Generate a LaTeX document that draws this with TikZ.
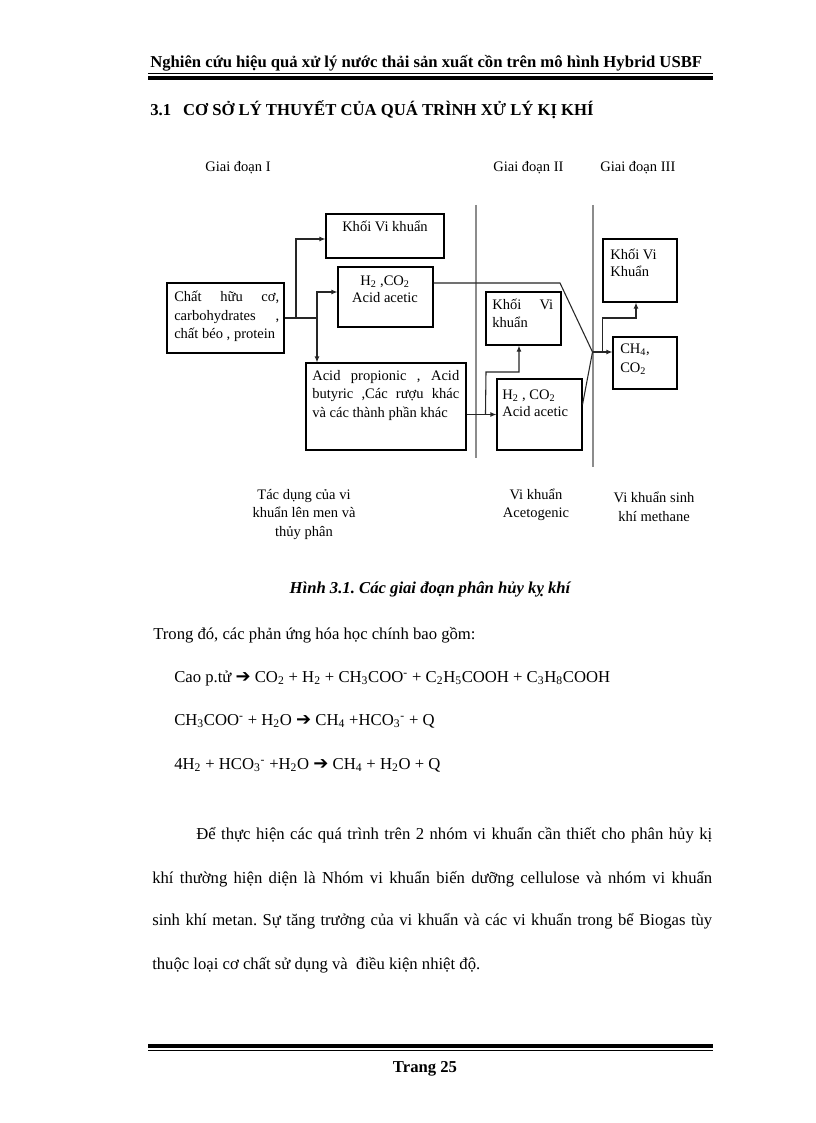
\documentclass[tikz,border=0pt]{standalone}
\usepackage{fontspec}
\setmainfont{Liberation Serif}
\newfontfamily\symfont{DejaVu Sans}
\usetikzlibrary{arrows.meta,fit,calc}
\newcommand{\ra}{{\symfont\fontsize{13.5}{15}\selectfont ➔}}
\newcommand{\sbs}[1]{\textsubscript{#1}}
\newcommand{\sps}[1]{\textsuperscript{#1}}
\frenchspacing
\begin{document}
\begin{tikzpicture}[x=0.75pt,y=-0.75pt,
  box/.style={draw=black, line width=0.8pt, inner sep=0pt},
  conn/.style={draw=black!85, line width=0.8pt},
  arr/.style={conn, -{Latex[length=4.5pt,width=3.6pt]}},
  divider/.style={draw=black!45, line width=1.1pt},
  dtext/.style={font=\fontsize{10.9}{14}\selectfont, inner sep=0pt},
  body/.style={font=\fontsize{12.5}{15}\selectfont, inner sep=0pt, anchor=base west},
  hdr/.style={font=\fontsize{12.5}{15}\selectfont\bfseries, inner sep=0pt},
]
\useasboundingbox[fill=white] (0,0) rectangle (816,1123);

% header and footer
\node[hdr, anchor=base west] (header) at (150,68) {Nghiên cứu hiệu quả xử lý nước thải sản xuất cồn trên mô hình Hybrid USBF};
\draw[line width=0.75pt] (148,74) -- (713,74);
\draw[line width=3pt] (148,78) -- (713,78);
\node[hdr, anchor=base west] (sec) at (150,116) {3.1\hspace{9pt}CƠ SỞ LÝ THUYẾT CỦA QUÁ TRÌNH XỬ LÝ KỊ KHÍ};
\draw[line width=3pt] (148,1046) -- (713,1046);
\draw[line width=0.75pt] (148,1050.5) -- (713,1050.5);
\node[hdr, anchor=base] (page) at (425,1072) {Trang 25};

% stage labels
\node[dtext, anchor=base west] (g1) at (205,172) {Giai đoạn I};
\node[dtext, anchor=base west] (g2) at (493,172) {Giai đoạn II};
\node[dtext, anchor=base west] (g3) at (600,172) {Giai đoạn III};

% dividers
\draw[divider] (476,205) -- (476,458);
\draw[divider] (593,205) -- (593,467);

% boxes
\node[box, fit={(326,214) (444,258)}] (k1) {};
\node[box, fit={(338,267) (433,327)}] (h1) {};
\node[box, fit={(167,283) (284,353)}] (ch) {};
\node[box, fit={(306,363) (466,450)}] (ap) {};
\node[box, fit={(497,379) (582,450)}] (h2) {};
\node[box, fit={(486,292) (561,345)}] (k2) {};
\node[box, fit={(603,239) (677,302)}] (k3) {};
\node[box, fit={(613,337) (677,389)}] (c4) {};

% box texts
\node[dtext, anchor=base] (k1t) at (385,232) {Khối Vi khuẩn};
\node[dtext, anchor=base] (h1ta) at (385,285) {H\sbs2 ,CO\sbs2};
\node[dtext, anchor=base] (h1tb) at (385,302) {Acid acetic};
\node[dtext, anchor=base west] (cha) at (174,301) {\makebox[78.75pt][s]{Chất hữu cơ,}};
\node[dtext, anchor=base west] (chb) at (174,320) {\makebox[78.75pt][s]{carbohydrates ,}};
\node[dtext, anchor=base west] (chc) at (174,338) {chất béo , protein};
\node[dtext, anchor=base west] (apa) at (312,380) {\makebox[110.25pt][s]{Acid propionic , Acid}};
\node[dtext, anchor=base west] (apb) at (312,398) {\makebox[110.25pt][s]{butyric ,Các rượu khác}};
\node[dtext, anchor=base west] (apc) at (312,417) {và các thành phần khác};
\node[dtext, anchor=base west] (h2a) at (502,399) {H\sbs2 , CO\sbs2};
\node[dtext, anchor=base west] (h2b) at (502,416) {Acid acetic};
\node[dtext, anchor=base west] (k2a) at (492,309) {\makebox[45.75pt][s]{Khối Vi}};
\node[dtext, anchor=base west] (k2b) at (492,327) {khuẩn};
\node[dtext, anchor=base west] (k3a) at (610,259) {Khối Vi};
\node[dtext, anchor=base west] (k3b) at (610,276) {Khuẩn};
\node[dtext, anchor=base west] (c4a) at (620,353) {CH\sbs4,};
\node[dtext, anchor=base west] (c4b) at (620,372) {CO\sbs2};

% bottom labels
\node[dtext, anchor=base] (b1a) at (304,499) {Tác dụng của vi};
\node[dtext, anchor=base] (b1b) at (304,517) {khuẩn lên men và};
\node[dtext, anchor=base] (b1c) at (304,536) {thủy phân};
\node[dtext, anchor=base] (b2a) at (536,499) {Vi khuẩn};
\node[dtext, anchor=base] (b2b) at (536,517) {Acetogenic};
\node[dtext, anchor=base] (b3a) at (654,502) {Vi khuẩn sinh};
\node[dtext, anchor=base] (b3b) at (654,521) {khí methane};

% connectors
\coordinate (j1) at (296,318);
\coordinate (j2) at (317,318);
\draw[conn] (ch.east) -- (j2);
\draw[arr] (j1) |- ([yshift=-2.25pt]k1.west);
\draw[arr] (j2) |- ([yshift=3.75pt]h1.west);
\draw[arr] (j2) -- (j2 |- ap.north);
\draw[arr] (ap.east |- h2.west) -- (h2.west);
\path (h2.west) ++(-11,0) coordinate (j3);
\coordinate (j4) at (486,372);
\draw[arr] (j3) -- (j4) -| ([xshift=-3.4pt]k2.south);
\coordinate (ca) at (560,283);
\coordinate (jm) at (592.5,352);
\draw[conn] (h1.east |- ca) -- (ca) -- (jm);
\draw[conn] ([yshift=-19.5pt]h2.north east) -- (jm);
\draw[arr] (jm) -- (c4.west |- jm);
\coordinate (j5) at (602.5,352);
\coordinate (j6) at (602.5,318);
\draw[arr] (j5) -- (j6) -| ([xshift=-3pt]k3.south);

% caption and body
\node[font=\fontsize{12.5}{15}\selectfont\bfseries\itshape, inner sep=0pt, anchor=base] (cap) at (430,593) {Hình 3.1. Các giai đoạn phân hủy kỵ khí};
\node[body] (intro) at (153,639) {Trong đó, các phản ứng hóa học chính bao gồm:};
\node[body] (eq1) at (174,682) {Cao p.tử \ra{} CO\sbs2 + H\sbs2 + CH\sbs3COO\sps{-} + C\sbs2H\sbs5COOH + C\sbs3H\sbs8COOH};
\node[body] (eq2) at (174,725) {CH\sbs3COO\sps{-} + H\sbs2O \ra{} CH\sbs4 +HCO\sbs3\sps{-} + Q};
\node[body] (eq3) at (174,769) {4H\sbs2 + HCO\sbs3\sps{-} +H\sbs2O \ra{} CH\sbs4 + H\sbs2O + Q};
\node[body] (p1) at (196,839) {\makebox[387pt][s]{Để thực hiện các quá trình trên 2 nhóm vi khuẩn cần thiết cho phân hủy kị}};
\node[body] (p2) at (152,883) {\makebox[420pt][s]{khí thường hiện diện là Nhóm vi khuẩn biến dưỡng cellulose và nhóm vi khuẩn}};
\node[body] (p3) at (152,925) {\makebox[420pt][s]{sinh khí metan. Sự tăng trưởng của vi khuẩn và các vi khuẩn trong bể Biogas tùy}};
\node[body] (p4) at (152,969) {thuộc loại cơ chất sử dụng và\ \ điều kiện nhiệt độ.};
\end{tikzpicture}
\end{document}
